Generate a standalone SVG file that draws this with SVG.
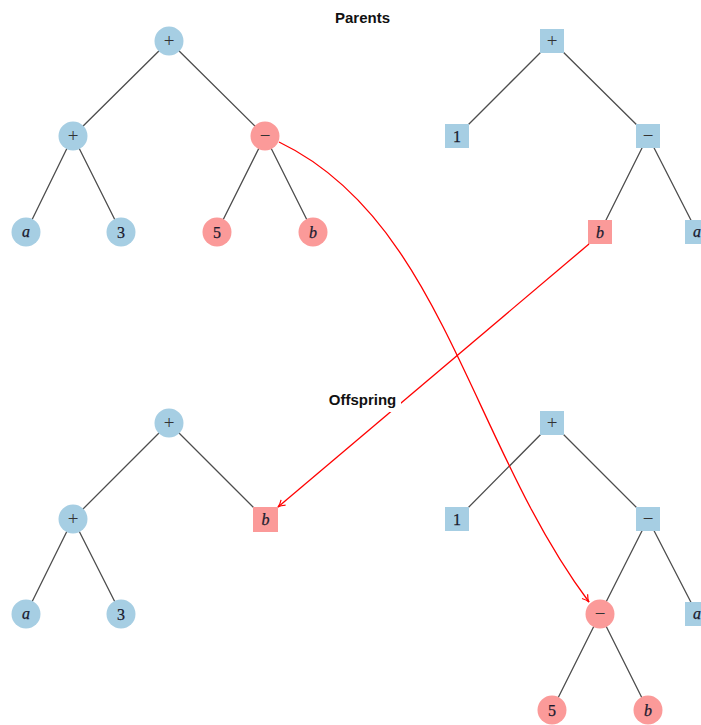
<svg xmlns="http://www.w3.org/2000/svg" width="701" height="725" viewBox="0 0 701 725">
<style>
.edge{stroke:#4d4d4d;stroke-width:1.3;fill:none}
.blue{fill:#a6cee3}
.red{fill:#fb9a99}
.lbl{font-family:"Liberation Serif","DejaVu Serif",serif;font-size:16px;fill:#1a1a2e;text-anchor:middle;stroke:#1a1a2e;stroke-width:0.25}
.it{font-style:italic}
.op{font-size:19px;fill:#333;stroke:none}
.title{font-family:"Liberation Sans",Arial,sans-serif;font-weight:bold;font-size:15px;fill:#111;text-anchor:middle}
.xover{stroke:#f00;stroke-width:1.3;fill:none}
</style>
<defs>
<marker id="arr" viewBox="-9 -5 10 10" refX="0" refY="0" markerWidth="10" markerHeight="10" markerUnits="userSpaceOnUse" orient="auto">
<path d="M -7 -3.5 Q -3 -0.5 0 0 Q -3 0.5 -7 3.5" stroke="#f00" stroke-width="1.2" fill="none"/>
</marker>
</defs>
<rect width="701" height="725" fill="#fff"/>
<g id="tree-edges">
<path class="edge" d="M169 41L73 136M169 41L265 136M73 136L26 232M73 136L121 232M265 136L217 232M265 136L313 232"/>
<path class="edge" d="M552 41L457 136M552 41L648 136M648 136L600 232M648 136L697 232"/>
<path class="edge" d="M169 423L73 519M169 423L265 519M73 519L26 614M73 519L121 614"/>
<path class="edge" d="M552 423L457 519M552 423L648 519M648 519L600 614M648 519L697 614M600 614L552 710M600 614L648 710"/>
</g>
<g id="p1-root"><circle class="blue" cx="169" cy="41" r="14.5"/><text class="lbl op" x="169" y="47">+</text></g>
<g id="p1-plus"><circle class="blue" cx="73" cy="136" r="14.5"/><text class="lbl op" x="73" y="142">+</text></g>
<g id="p1-minus"><circle class="red" cx="265" cy="136" r="14.5"/><text class="lbl op" x="265" y="142">−</text></g>
<g id="p1-a"><circle class="blue" cx="26" cy="232" r="14.5"/><text class="lbl it" x="26" y="237">a</text></g>
<g id="p1-3"><circle class="blue" cx="121" cy="232" r="14.5"/><text class="lbl" x="121" y="238">3</text></g>
<g id="p1-5"><circle class="red" cx="217" cy="232" r="14.5"/><text class="lbl" x="217" y="238">5</text></g>
<g id="p1-b"><circle class="red" cx="313" cy="232" r="14.5"/><text class="lbl it" x="313" y="238">b</text></g>
<g id="p2-root"><rect class="blue" x="540" y="29" width="24" height="24"/><text class="lbl op" x="552" y="47">+</text></g>
<g id="p2-1"><rect class="blue" x="445" y="124" width="24" height="24"/><text class="lbl" x="457" y="142">1</text></g>
<g id="p2-minus"><rect class="blue" x="636" y="124" width="24" height="24"/><text class="lbl op" x="648" y="142">−</text></g>
<g id="p2-b"><rect class="red" x="588" y="220" width="24" height="24"/><text class="lbl it" x="600" y="238">b</text></g>
<g id="p2-a"><rect class="blue" x="685" y="220" width="24" height="24"/><text class="lbl it" x="697" y="237">a</text></g>
<g id="o1-root"><circle class="blue" cx="169" cy="423" r="14.5"/><text class="lbl op" x="169" y="429">+</text></g>
<g id="o1-plus"><circle class="blue" cx="73" cy="519" r="14.5"/><text class="lbl op" x="73" y="525">+</text></g>
<g id="o1-b"><rect class="red" x="253" y="507" width="25" height="25"/><text class="lbl it" x="265.5" y="525">b</text></g>
<g id="o1-a"><circle class="blue" cx="26" cy="614" r="14.5"/><text class="lbl it" x="26" y="619">a</text></g>
<g id="o1-3"><circle class="blue" cx="121" cy="614" r="14.5"/><text class="lbl" x="121" y="620">3</text></g>
<g id="o2-root"><rect class="blue" x="540" y="411" width="24" height="24"/><text class="lbl op" x="552" y="429">+</text></g>
<g id="o2-1"><rect class="blue" x="445" y="507" width="24" height="24"/><text class="lbl" x="457" y="525">1</text></g>
<g id="o2-minus"><rect class="blue" x="636" y="507" width="24" height="24"/><text class="lbl op" x="648" y="525">−</text></g>
<g id="o2-a"><rect class="blue" x="685" y="602" width="24" height="24"/><text class="lbl it" x="697" y="619">a</text></g>
<g id="o2-minus2"><circle class="red" cx="600" cy="614" r="14.5"/><text class="lbl op" x="600" y="620">−</text></g>
<g id="o2-5"><circle class="red" cx="552" cy="710" r="14.5"/><text class="lbl" x="552" y="716">5</text></g>
<g id="o2-b"><circle class="red" cx="648" cy="710" r="14.5"/><text class="lbl it" x="648" y="716">b</text></g>
<g id="crossover">
<path class="xover" d="M279 142 C442 220 470 443 589 602" marker-end="url(#arr)"/>
<path class="xover" d="M589 244 L278 507" marker-end="url(#arr)"/>
</g>
<g id="titles">
<text class="title" x="362.5" y="23">Parents</text>
<rect x="325" y="389" width="76" height="23" fill="#fff"/>
<text class="title" x="362.5" y="405">Offspring</text>
</g>
</svg>
